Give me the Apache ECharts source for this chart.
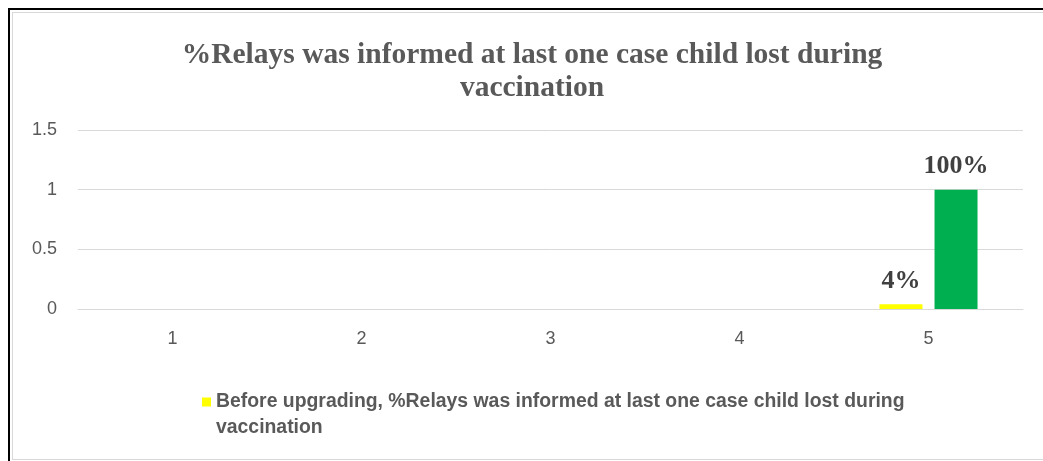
<!DOCTYPE html>
<html>
<head>
<meta charset="utf-8">
<script src="https://cdn.jsdelivr.net/npm/echarts@6/dist/echarts.min.js"></script>
<style>
  html, body { margin: 0; padding: 0; background: #fff; }
  #frame { position: absolute; left: 8px; top: 8px; width: 1035px; height: 453px;
           border-top: 2px solid #000; border-left: 2px solid #000; box-sizing: border-box; }
  #inner { position: absolute; left: 12px; top: 12px; width: 1031px; height: 448px;
           border-top: 1px solid #d9d9d9; border-left: 1px solid #d9d9d9; border-bottom: 1px solid #d9d9d9;
           box-sizing: border-box; }
  #chart { position: absolute; left: 0; top: 0; width: 1043px; height: 461px; }
</style>
</head>
<body>
<div id="frame"></div>
<div id="inner"></div>
<div id="chart"></div>
<script>
const categories = ['1', '2', '3', '4', '5']
const beforeName = 'Before upgrading, %Relays was informed at last one case child lost during vaccination'
const afterName = 'After upgrading, %Relays was informed at last one case child lost during vaccination'
const beforeValues = ['-', '-', '-', '-', 0.04]
const afterValues = ['-', '-', '-', '-', 1]
const yTicks = [0, 0.5, 1, 1.5]

const chart = echarts.init(document.getElementById('chart'), null, { renderer: 'canvas' })

const pctLabel = {
  show: true,
  position: 'top',
  distance: 10,
  fontFamily: 'Liberation Serif',
  fontWeight: 'bold',
  fontSize: 26,
  color: '#404040',
  formatter: p => Math.round(p.value * 100) + '%'
}

const axisFont = { fontFamily: 'Liberation Sans', fontSize: 18, color: '#595959' }

chart.setOption({
  animation: false,
  title: {
    text: '%Relays was informed at last one case child lost during\nvaccination',
    left: 527,
    top: 34,
    textAlign: 'center',
    textStyle: {
      fontFamily: 'Liberation Serif',
      fontWeight: 'bold',
      fontSize: 29.5,
      lineHeight: 33,
      color: '#595959'
    }
  },
  legend: {
    data: [beforeName],
    left: 202,
    top: 363,
    padding: 0,
    itemWidth: 9,
    itemHeight: 9,
    icon: 'rect',
    // leading blank line keeps the marker beside the first line of the wrapped name
    formatter: () => '\nBefore upgrading, %Relays was informed at last one case child lost during\nvaccination',
    textStyle: {
      fontFamily: 'Liberation Sans',
      fontWeight: 'bold',
      fontSize: 19.4,
      lineHeight: 26,
      color: '#595959'
    }
  },
  grid: { left: 78, right: 20, top: 130, bottom: 152 },
  xAxis: {
    type: 'category',
    data: categories,
    axisTick: { show: false },
    axisLine: { lineStyle: { color: '#d9d9d9' } },
    axisLabel: Object.assign({ margin: 21 }, axisFont)
  },
  yAxis: {
    type: 'value',
    min: yTicks[0],
    max: yTicks[yTicks.length - 1],
    interval: 0.5,
    axisLine: { show: false },
    axisTick: { show: false },
    splitLine: { lineStyle: { color: '#d9d9d9' } },
    axisLabel: Object.assign({ margin: 21 }, axisFont)
  },
  series: [
    {
      name: beforeName,
      type: 'bar',
      data: beforeValues,
      barWidth: 43,
      barGap: '28%',
      itemStyle: { color: '#FFFF00' },
      label: pctLabel
    },
    {
      name: afterName,
      type: 'bar',
      data: afterValues,
      barWidth: 43,
      itemStyle: { color: '#00B050' },
      label: pctLabel
    }
  ]
})
</script>
</body>
</html>
